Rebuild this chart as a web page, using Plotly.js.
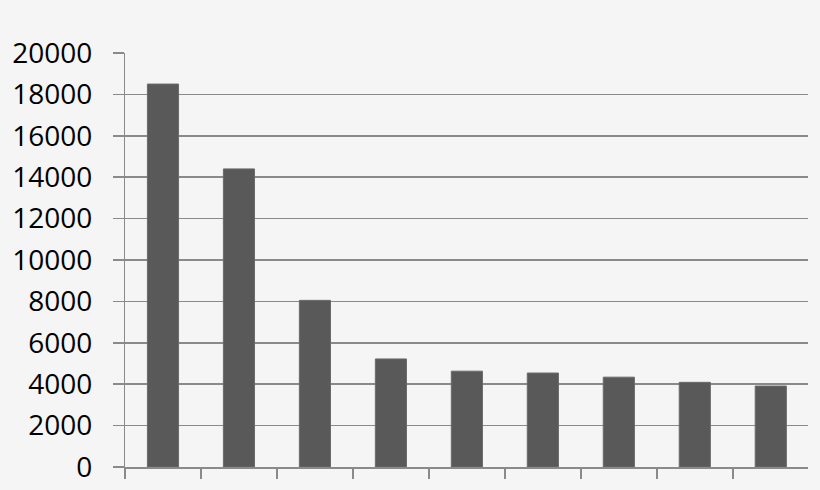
<!DOCTYPE html>
<html>
    <head>
        <meta charset="utf-8">
        <title>Bar chart</title>
        <style>
            *{
                box-sizing: border-box;
                margin: 0px;
                padding: 0px;
            }
            body{
                background: #f5f5f5;
            }
            #grafik{
                width: 820px;
                height: 490px;
            }
        </style>
        <script src="https://cdn.plot.ly/plotly-3.0.1.min.js" charset="utf-8"></script>
    </head>
    <body>
        <div id="grafik"></div>
    </body>
    <script>
        // categories have no visible labels in the picture
        const categories = ['1', '2', '3', '4', '5', '6', '7', '8', '9'];
        const values = [18500, 14400, 8050, 5220, 4630, 4540, 4340, 4090, 3910];

        let trace1 = {
            x: categories,
            y: values,
            type: 'bar',
            width: 0.41,
            marker: {
                color: '#595959',
                line: {color: '#6a6a6a', width: 1}
            },
            hoverinfo: 'y'
        };

        let layout = {
            width: 820,
            height: 490,
            paper_bgcolor: '#f5f5f5',
            plot_bgcolor: '#f5f5f5',
            margin: {l: 125, r: 12, t: 53, b: 23},
            showlegend: false,
            font: {family: 'Open Sans, sans-serif', color: 'black'},
            xaxis: {
                type: 'category',
                range: [-0.5, 8.49], // no tick at the right end, as in the picture
                showticklabels: false,
                tickson: 'boundaries',
                ticks: 'outside',
                ticklen: 10,
                tickwidth: 1.5,
                tickcolor: '#8a8a8a',
                showline: true,
                linecolor: '#8a8a8a',
                linewidth: 1.5,
                showgrid: false,
                zeroline: false
            },
            yaxis: {
                range: [0, 20000],
                dtick: 2000,
                tick0: 0,
                tickformat: 'd',
                ticksuffix: '\u00a0\u00a0', // gap between labels and ticks
                ticks: 'outside',
                ticklen: 11,
                tickwidth: 1.5,
                tickcolor: '#8a8a8a',
                tickfont: {family: 'Open Sans, sans-serif', size: 28, color: 'black'},
                showline: true,
                linecolor: '#8a8a8a',
                linewidth: 1.5,
                gridcolor: '#8a8a8a',
                gridwidth: 1.5,
                zeroline: false
            }
        };

        Plotly.newPlot('grafik', [trace1], layout, {displayModeBar: false, staticPlot: true});
    </script>
</html>
